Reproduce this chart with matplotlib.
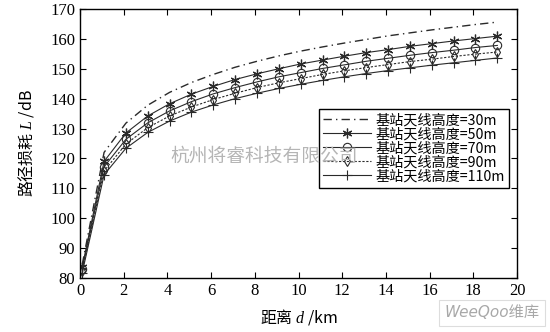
import matplotlib
matplotlib.use("Agg")
import matplotlib.pyplot as plt

plt.rcParams['font.family'] = ['Liberation Serif', 'Noto Sans CJK SC', 'DejaVu Sans']
plt.rcParams['mathtext.fontset'] = 'custom'
plt.rcParams['mathtext.it'] = 'Liberation Serif:italic'
plt.rcParams['mathtext.rm'] = 'Liberation Serif'

# 距离 (km)
dist = [0.1, 1.1, 2.1, 3.1, 4.1, 5.1, 6.1, 7.1, 8.1, 9.1,
        10.1, 11.1, 12.1, 13.1, 14.1, 15.1, 16.1, 17.1, 18.1, 19.1]

# 路径损耗 (dB)，按基站天线高度
loss_30 = [84.5, 122.0, 131.8, 137.8, 142.1, 145.4, 148.1, 150.5, 152.5, 154.3,
           155.9, 157.3, 158.6, 159.8, 161.0, 162.0, 163.0, 163.9, 164.8, 165.6]
loss_50 = [83.6, 119.0, 128.5, 134.2, 138.3, 141.5, 144.1, 146.4, 148.3, 150.0,
           151.6, 152.9, 154.2, 155.4, 156.4, 157.5, 158.4, 159.3, 160.1, 160.9]
loss_70 = [83.0, 117.2, 126.4, 131.9, 135.9, 139.0, 141.6, 143.7, 145.6, 147.3,
           148.7, 150.1, 151.3, 152.5, 153.5, 154.5, 155.4, 156.2, 157.1, 157.8]
loss_90 = [82.4, 115.8, 124.8, 130.3, 134.2, 137.2, 139.7, 141.8, 143.7, 145.3,
           146.7, 148.1, 149.3, 150.4, 151.4, 152.4, 153.2, 154.1, 154.9, 155.6]
loss_110 = [81.7, 114.5, 123.4, 128.7, 132.5, 135.5, 137.9, 140.0, 141.8, 143.4,
            144.8, 146.1, 147.3, 148.4, 149.4, 150.3, 151.2, 152.0, 152.8, 153.6]

labels = ['基站天线高度=30m', '基站天线高度=50m', '基站天线高度=70m',
          '基站天线高度=90m', '基站天线高度=110m']

x_ticks = [0, 2, 4, 6, 8, 10, 12, 14, 16, 18, 20]
y_ticks = [80, 90, 100, 110, 120, 130, 140, 150, 160, 170]

fig = plt.figure(figsize=(5.5, 3.32), dpi=100)
ax = fig.add_axes([0.1455, 0.1627, 0.7945, 0.8103])

c = '#2a2a2a'
ax.plot(dist, loss_30, color=c, lw=1.0, dashes=(6, 3, 1, 3), label=labels[0])
ax.plot(dist, loss_50, color=c, lw=0.8, marker=(6, 2, 0), ms=7, mew=0.9, label=labels[1])
ax.plot(dist, loss_70, color=c, lw=0.8, marker='o', ms=6, mfc='none', mew=0.8, label=labels[2])
ax.plot(dist, loss_90, color=c, lw=0.8, ls=(0, (2, 1.5)), marker='d', ms=5, mfc='none', mew=0.8,
        label=labels[3])
ax.plot(dist, loss_110, color=c, lw=0.8, marker='+', ms=7, mew=0.8, label=labels[4])

ax.set_xlim(0, 20)
ax.set_ylim(80, 170)
ax.set_xticks(x_ticks)
ax.set_yticks(y_ticks)
ax.tick_params(direction='in', top=True, right=True, labelsize=12, length=4, width=0.8)
for s in ax.spines.values():
    s.set_linewidth(1.0)

ax.set_xlabel('距离 $d$ /km', fontsize=11.5, family='Noto Sans CJK SC', labelpad=6)
ax.set_ylabel('路径损耗 $L$ /dB', fontsize=11.5, family='Noto Sans CJK SC', labelpad=10)

leg = ax.legend(loc='upper right', bbox_to_anchor=(0.982, 0.628),
                prop={'family': ['Noto Sans CJK SC'], 'size': 10.2},
                frameon=True, fancybox=False, edgecolor='black', framealpha=1,
                handlelength=3.4, handletextpad=0.3, labelspacing=0.0,
                borderpad=0.3, borderaxespad=0)
leg.get_frame().set_linewidth(1.0)

# 水印
fig.text(0.48, 0.53, '杭州将睿科技有限公司', fontsize=13.5, color='#b5b5b5',
         family='Noto Sans CJK SC', ha='center', va='center', zorder=10)
fig.text(0.895, 0.058, 'WeeQoo维库', fontsize=11, color='#a8a8a8', style='italic',
         family=['DejaVu Sans', 'Noto Sans CJK SC'], ha='center', va='center',
         bbox=dict(boxstyle='square,pad=0.35', fc='white', ec='#dddddd', lw=0.8))

fig.savefig('out.png', dpi=100)
